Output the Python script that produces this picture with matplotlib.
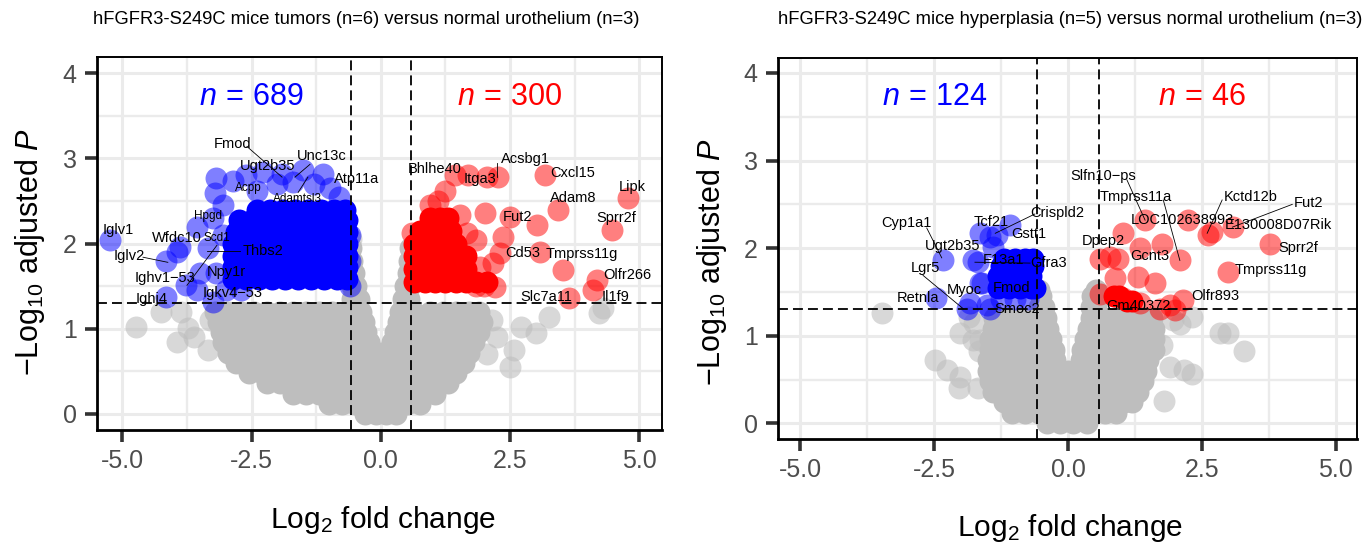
import matplotlib
matplotlib.use("Agg")
import matplotlib.pyplot as plt

plt.rcParams['font.family'] = ['Liberation Sans', 'DejaVu Sans']
plt.rcParams['mathtext.fontset'] = 'custom'
plt.rcParams['mathtext.rm'] = 'Liberation Sans'
plt.rcParams['mathtext.it'] = 'Liberation Sans:italic'
plt.rcParams['mathtext.bf'] = 'Liberation Sans:bold'

# ---------------- Panel 1: tumors vs normal urothelium ----------------
tumor_title = "hFGFR3-S249C mice tumors (n=6) versus normal urothelium (n=3)"
tumor_n_down = 689
tumor_n_up = 300

# grey (not significant) genes in the dense cloud, rows of (-log10 padj, [log2FC ...])
tumor_grey_rows = [
    (0.00, [-0.3, -0.1, 0.1, 0.3]),
    (0.12, [-1.0, -0.75, -0.5, -0.25, 0.0, 0.25, 0.5, 0.75]),
    (0.24, [-1.7, -1.45, -1.2, -0.95, -0.7, -0.45, -0.2, 0.05, 0.3, 0.55, 0.8, 1.05]),
    (0.36, [-2.2, -1.95, -1.7, -1.45, -1.2, -0.95, -0.7, -0.45, -0.2, 0.05, 0.3, 0.55, 0.8, 1.05, 1.3]),
    (0.48, [-2.55, -2.3, -2.05, -1.8, -1.55, -1.3, -1.05, -0.8, -0.55, -0.3, -0.05, 0.2, 0.45, 0.7, 0.95, 1.2, 1.45]),
    (0.60, [-2.8, -2.55, -2.3, -2.05, -1.8, -1.55, -1.3, -1.05, -0.8, -0.55, -0.3, -0.05, 0.2, 0.45, 0.7, 0.95, 1.2, 1.45, 1.6]),
    (0.72, [-2.95, -2.7, -2.45, -2.2, -1.95, -1.7, -1.45, -1.2, -0.95, -0.7, -0.45, -0.2, 0.0, 0.2, 0.45, 0.7, 0.95, 1.2, 1.45, 1.7]),
    (0.84, [-3.05, -2.8, -2.55, -2.3, -2.05, -1.8, -1.55, -1.3, -1.05, -0.8, -0.5, -0.22, 0.22, 0.5, 0.8, 1.05, 1.3, 1.55, 1.8]),
    (0.96, [-3.1, -2.85, -2.6, -2.35, -2.1, -1.85, -1.6, -1.35, -1.1, -0.85, -0.55, -0.28, 0.28, 0.55, 0.85, 1.1, 1.35, 1.6, 1.9]),
    (1.08, [-3.15, -2.9, -2.65, -2.4, -2.15, -1.9, -1.65, -1.4, -1.15, -0.9, -0.6, -0.33, 0.33, 0.6, 0.9, 1.15, 1.4, 1.65, 1.95]),
    (1.20, [-3.2, -2.95, -2.7, -2.45, -2.2, -1.95, -1.7, -1.45, -1.2, -0.95, -0.65, -0.38, 0.38, 0.65, 0.95, 1.2, 1.45, 1.7, 1.9]),
    (1.35, [-0.55, -0.42, 0.42, 0.55]),
    (1.50, [-0.56, -0.47, 0.47, 0.56]),
    (1.65, [-0.52, 0.52]),
    (1.80, [-0.56, 0.55]),
    (1.95, [-0.57, 0.57]),
]
# scattered grey genes outside the dense cloud
tumor_grey_extra = [
    (-0.57, 2.05),
    (-4.73, 1.02), (-4.26, 1.2), (-3.87, 1.2), (-3.72, 1.01), (-3.95, 0.85), (-3.62, 0.9),
    (-3.35, 0.75), (-3.3, 1.1), (2.71, 1.02), (3.0, 0.95), (3.25, 1.14), (4.22, 1.18),
    (4.3, 1.24), (2.57, 0.75), (2.49, 0.55), (2.15, 1.1), (2.05, 0.7), (2.25, 0.9),
]
# down-regulated (blue), dense block
tumor_down_rows = [
    (1.58, [-2.85, -2.6, -2.35, -2.1, -1.85, -1.6, -1.35, -1.1, -0.85, -0.65]),
    (1.72, [-2.85, -2.6, -2.35, -2.1, -1.85, -1.6, -1.35, -1.1, -0.85, -0.65]),
    (1.86, [-2.85, -2.6, -2.35, -2.1, -1.85, -1.6, -1.35, -1.1, -0.85, -0.65]),
    (2.00, [-2.85, -2.6, -2.35, -2.1, -1.85, -1.6, -1.35, -1.1, -0.85, -0.65]),
    (2.14, [-2.8, -2.55, -2.3, -2.05, -1.8, -1.55, -1.3, -1.05, -0.8, -0.65]),
    (2.28, [-2.75, -2.5, -2.25, -2.0, -1.75, -1.5, -1.25, -1.0, -0.75, -0.65]),
    (2.40, [-2.4, -2.15, -1.9, -1.65, -1.4, -1.15, -0.9, -0.7]),
]
tumor_down_extra = [
    (-0.6, 1.5), (-0.6, 1.8), (-0.6, 2.1), (-3.18, 2.77), (-3.21, 2.59), (-2.86, 2.74),
    (-2.6, 2.8), (-2.28, 2.84), (-1.92, 2.82), (-1.51, 2.86), (-1.12, 2.82), (-0.99, 2.65),
    (-2.0, 2.7), (-1.7, 2.72), (-1.3, 2.7), (-2.4, 2.62), (-0.8, 2.55), (-3.56, 2.2),
    (-3.25, 2.3), (-3.89, 1.96), (-3.35, 1.95), (-3.18, 1.65), (-3.5, 1.65), (-3.76, 1.51),
    (-3.56, 1.45), (-3.25, 1.32), (-3.0, 1.45), (-2.7, 1.45), (-4.15, 1.8), (-3.95, 1.9),
    (-4.16, 1.37), (-5.23, 2.04), (-3.05, 2.45), (-3.05, 2.1),
]
# up-regulated (red), dense block
tumor_up_rows = [
    (1.55, [0.65, 0.85, 1.05, 1.25, 1.45, 1.65, 1.85, 2.05]),
    (1.70, [0.65, 0.85, 1.05, 1.25, 1.45, 1.65]),
    (1.85, [0.65, 0.85, 1.05, 1.25, 1.45, 1.65]),
    (2.00, [0.65, 0.85, 1.05, 1.25, 1.45]),
    (2.15, [0.75, 0.95, 1.15, 1.35]),
    (2.30, [0.95, 1.15, 1.3]),
]
tumor_up_extra = [
    (0.6, 2.13), (1.1, 2.5), (1.25, 2.62), (0.95, 2.45), (1.43, 2.8), (1.68, 2.8),
    (2.05, 2.78), (2.26, 2.78), (3.17, 2.8), (4.78, 2.53), (3.42, 2.39), (3.02, 2.22),
    (2.49, 2.31), (2.01, 2.36), (1.53, 2.33), (4.47, 2.16), (3.08, 1.9), (3.52, 1.69),
    (4.18, 1.57), (4.1, 1.45), (3.64, 1.36), (2.36, 2.08), (2.3, 1.89), (2.17, 1.77),
    (2.2, 1.49), (1.91, 1.72), (1.85, 2.04), (1.66, 2.12), (2.0, 1.5), (1.85, 1.5),
]
# (label, text x, text y, font size, connector (x1, y1, x2, y2) or None)
tumor_labels = [
    ("Fmod", -2.86, 3.17, 10.5, (-2.59, 3.14, -1.91, 2.78)),
    ("Ugt2b35", -2.19, 2.91, 10.5, None),
    ("Unc13c", -1.14, 3.03, 10.5, (-1.37, 2.93, -1.66, 2.78)),
    ("Atp11a", -0.46, 2.76, 10.5, None),
    ("Acpp", -2.57, 2.65, 8.5, None),
    ("Adamtsl3", -1.62, 2.52, 8.5, (-1.41, 2.78, -1.6, 2.6)),
    ("Hpgd", -3.35, 2.32, 8.5, None),
    ("Iglv1", -5.07, 2.16, 10.5, None),
    ("Wfdc10", -3.95, 2.06, 10.5, None),
    ("Scd1", -3.17, 2.06, 8.5, None),
    ("Thbs2", -2.28, 1.91, 10.5, (-3.37, 1.91, -2.73, 1.91)),
    ("Iglv2", -4.86, 1.85, 10.5, (-4.6, 1.84, -4.12, 1.78)),
    ("Npy1r", -2.98, 1.67, 10.5, None),
    ("Ighv1\u221253", -4.18, 1.6, 10.5, (-3.75, 1.51, -3.17, 1.98)),
    ("Igkv4\u221253", -2.86, 1.42, 10.5, None),
    ("Ighj4", -4.43, 1.35, 10.5, None),
    ("Bhlhe40", 1.04, 2.88, 10.5, None),
    ("Acsbg1", 2.79, 2.99, 10.5, (2.24, 2.94, 2.24, 2.78)),
    ("Itga3", 1.91, 2.76, 10.5, None),
    ("Cxcl15", 3.71, 2.83, 10.5, None),
    ("Lipk", 4.86, 2.66, 10.5, None),
    ("Adam8", 3.73, 2.53, 10.5, None),
    ("Sprr2f", 4.56, 2.30, 10.5, None),
    ("Fut2", 2.65, 2.31, 10.5, None),
    ("Cd53", 2.75, 1.89, 10.5, None),
    ("Tmprss11g", 3.89, 1.88, 10.5, None),
    ("Olfr266", 4.76, 1.63, 10.5, None),
    ("Slc7a11", 3.21, 1.37, 10.5, None),
    ("Il1f9", 4.55, 1.37, 10.5, None),
]

# ---------------- Panel 2: hyperplasia vs normal urothelium ----------------
hyper_title = "hFGFR3-S249C mice hyperplasia (n=5) versus normal urothelium (n=3)"
hyper_n_down = 124
hyper_n_up = 46

hyper_grey_rows = [
    (0.00, [-0.4, -0.15, 0.1, 0.35]),
    (0.12, [-1.05, -0.8, -0.55, -0.3, -0.05, 0.2, 0.45, 0.7, 0.9]),
    (0.24, [-1.2, -0.95, -0.7, -0.45, -0.2, 0.05, 0.3, 0.55, 0.8, 1.05, 1.2]),
    (0.36, [-1.4, -1.15, -0.9, -0.65, -0.4, -0.15, 0.1, 0.35, 0.6, 0.85, 1.1, 1.3]),
    (0.48, [-1.45, -1.2, -0.95, -0.7, -0.45, -0.2, 0.05, 0.3, 0.55, 0.8, 1.05, 1.3, 1.4]),
    (0.60, [-1.5, -1.25, -1.0, -0.75, -0.5, -0.25, 0.0, 0.25, 0.5, 0.75, 1.0, 1.25, 1.45]),
    (0.72, [-1.5, -1.25, -1.0, -0.75, -0.5, -0.25, 0.25, 0.5, 0.75, 1.0, 1.25, 1.5]),
    (0.84, [-1.45, -1.2, -0.95, -0.7, -0.45, -0.27, 0.27, 0.45, 0.7, 0.95, 1.2, 1.45, 1.6]),
    (0.96, [-1.45, -1.2, -0.95, -0.7, -0.5, -0.32, 0.32, 0.5, 0.7, 0.95, 1.2, 1.45, 1.6]),
    (1.08, [-1.4, -1.15, -0.9, -0.65, -0.38, 0.38, 0.65, 0.9, 1.15, 1.4, 1.6]),
    (1.20, [-1.38, -1.15, -0.9, -0.65, -0.42, 0.42, 0.65, 0.9, 1.15, 1.4, 1.57]),
    (1.33, [-0.55, -0.45, 0.42, 0.53]),
    (1.45, [-0.5, 0.45]),
    (1.52, [-0.55, 0.52]),
]
hyper_grey_extra = [
    (-3.47, 1.26), (-2.49, 0.72), (-2.27, 0.61), (-2.04, 0.41), (-1.78, 0.95), (-1.85, 1.21),
    (-1.66, 0.83), (-2.02, 1.03), (-1.64, 0.95), (-2.02, 0.53), (-1.68, 0.41), (-1.75, 1.15),
    (2.99, 1.03), (3.29, 0.83), (2.32, 1.21), (2.17, 0.61), (1.8, 0.26), (2.32, 0.57),
    (2.09, 1.14), (1.91, 0.64), (1.96, 1.18), (2.84, 1.03), (1.75, 0.9),
]
hyper_down_rows = [
    (1.55, [-1.3, -1.1, -0.9, -0.7, -0.62]),
    (1.68, [-1.3, -1.1, -0.9, -0.7]),
    (1.80, [-1.25, -1.05, -0.85, -0.65]),
    (1.88, [-1.2, -1.0, -0.8, -0.65]),
]
hyper_down_extra = [
    (-2.34, 1.86), (-2.46, 1.43), (-1.89, 1.31), (-1.64, 1.6), (-1.64, 2.17), (-1.46, 2.13),
    (-1.33, 2.15), (-1.08, 2.26), (-1.77, 1.86), (-1.4, 2.01), (-0.65, 1.86), (-1.46, 1.31),
    (-1.52, 1.35), (-1.83, 1.37), (-1.68, 1.84), (-1.6, 1.6), (-1.25, 1.42), (-1.0, 1.42),
    (-0.75, 1.42),
]
hyper_up_rows = [
    (1.45, [0.85, 0.95]),
    (1.40, [1.1, 1.2]),
]
hyper_up_extra = [
    (1.44, 2.32), (2.24, 2.32), (2.69, 2.18), (2.62, 2.15), (3.08, 2.24), (3.78, 2.05),
    (2.99, 1.73), (2.15, 1.41), (2.09, 1.86), (1.76, 2.05), (1.35, 2.0), (1.63, 1.6),
    (1.31, 1.67), (1.03, 2.17), (0.93, 1.88), (0.6, 1.88), (0.88, 1.66), (1.03, 1.43),
    (1.35, 1.38), (1.72, 1.31), (0.79, 1.9), (0.6, 1.48), (1.9, 1.35), (2.0, 1.3),
]
hyper_labels = [
    ("Cyp1a1", -3.02, 2.29, 10.5, (-2.64, 2.23, -2.36, 1.89)),
    ("Ugt2b35", -2.15, 2.03, 10.5, None),
    ("Lgr5", -2.67, 1.77, 10.5, (-2.71, 1.69, -1.96, 1.31)),
    ("Retnla", -2.8, 1.43, 10.5, None),
    ("Myoc", -1.93, 1.52, 10.5, None),
    ("Tcf21", -1.44, 2.30, 10.5, None),
    ("Crispld2", -0.21, 2.40, 10.5, (-0.62, 2.39, -1.36, 2.17)),
    ("Gstt1", -0.73, 2.16, 10.5, None),
    ("F13a1", -1.21, 1.86, 10.5, (-1.74, 1.84, -0.71, 1.83)),
    ("Gfra3", -0.37, 1.83, 10.5, None),
    ("Fmod", -1.05, 1.55, 10.5, None),
    ("Smoc2", -0.95, 1.31, 10.5, None),
    ("Slfn10\u2212ps", 0.65, 2.82, 10.5, (1.1, 2.78, 1.44, 2.32)),
    ("Tmprss11a", 1.27, 2.58, 10.5, (1.78, 2.55, 2.09, 1.86)),
    ("LOC102638993", 2.13, 2.32, 10.5, None),
    ("Kctd12b", 3.42, 2.58, 10.5, (2.88, 2.55, 2.6, 2.17)),
    ("Fut2", 4.49, 2.51, 10.5, (4.19, 2.5, 3.07, 2.24)),
    ("E130008D07Rik", 3.93, 2.27, 10.5, None),
    ("Sprr2f", 4.3, 2.0, 10.5, None),
    ("Dpep2", 0.65, 2.08, 10.5, None),
    ("Gcnt3", 1.53, 1.91, 10.5, None),
    ("Tmprss11g", 3.79, 1.75, 10.5, None),
    ("Olfr893", 2.75, 1.46, 10.5, None),
    ("Gm40372", 1.31, 1.34, 10.5, None),
]

FC_CUT = 0.585
P_CUT = 1.301
xticks = [-5.0, -2.5, 0.0, 2.5, 5.0]
xtick_labels = ["-5.0", "-2.5", "0.0", "2.5", "5.0"]
yticks = [0, 1, 2, 3, 4]


def unrow(rows):
    xs, ys = [], []
    for y, row in rows:
        xs += row
        ys += [y] * len(row)
    return xs, ys


def unpair(pairs):
    return [p[0] for p in pairs], [p[1] for p in pairs]


def panel(ax, data, labels, n_down, n_up, xlim, ylim):
    ax.set_xlim(*xlim)
    ax.set_ylim(*ylim)
    ax.set_xticks(xticks)
    ax.set_xticklabels(xtick_labels)
    ax.set_yticks(yticks)
    ax.set_xticks([-3.75, -1.25, 1.25, 3.75], minor=True)
    ax.set_yticks([0.5, 1.5, 2.5, 3.5], minor=True)
    ax.grid(which='major', color='#ebebeb', lw=2.2, zorder=0)
    ax.grid(which='minor', color='#ebebeb', lw=1.7, zorder=0)
    ax.set_axisbelow(True)
    ax.tick_params(which='major', length=8.6, width=2.6, color='#333333',
                   labelsize=18, labelcolor='#4d4d4d')
    ax.tick_params(axis='x', pad=5)
    ax.tick_params(axis='y', pad=6)
    ax.tick_params(which='minor', length=0)
    for s in ['top', 'right']:
        ax.spines[s].set_linewidth(1.4)
    for s in ['left', 'bottom']:
        ax.spines[s].set_linewidth(2.0)

    ms = 250
    (g_rows, g_extra), (d_rows, d_extra), (u_rows, u_extra) = data
    # dense clouds (thousands of overlapping genes) render opaque
    x, y = unpair(g_extra)
    ax.scatter(x, y, s=ms, c='#bebebe', alpha=0.6, linewidths=0, zorder=2)
    x, y = unrow(g_rows)
    ax.scatter(x, y, s=ms, c='#bebebe', alpha=1.0, linewidths=0, zorder=2)
    x, y = unrow(d_rows)
    ax.scatter(x, y, s=ms, c='#0000ff', alpha=1.0, linewidths=0, zorder=3)
    x, y = unpair(d_extra)
    ax.scatter(x, y, s=ms, c='#0000ff', alpha=0.5, linewidths=0, zorder=3)
    x, y = unrow(u_rows)
    ax.scatter(x, y, s=ms, c='#ff0000', alpha=1.0, linewidths=0, zorder=3)
    x, y = unpair(u_extra)
    ax.scatter(x, y, s=ms, c='#ff0000', alpha=0.5, linewidths=0, zorder=3)

    dash = (0, (5.5, 2.8))
    ax.axvline(-FC_CUT, color='black', lw=1.3, ls=dash, zorder=4)
    ax.axvline(FC_CUT, color='black', lw=1.3, ls=dash, zorder=4)
    ax.axhline(P_CUT, color='black', lw=1.3, ls=dash, zorder=4)

    for txt, tx, ty, fs, seg in labels:
        if seg is not None:
            ax.plot([seg[0], seg[2]], [seg[1], seg[3]], color='black', lw=0.6, zorder=5)
        ax.text(tx, ty, txt, fontsize=fs, ha='center', va='center', color='black', zorder=6)

    ax.text(-2.5, 3.72, r'$n\,=\,%d$' % n_down, color='#0000ff', fontsize=22,
            ha='center', va='center', zorder=6)
    ax.text(2.5, 3.72, r'$n\,=\,%d$' % n_up, color='#ff0000', fontsize=22,
            ha='center', va='center', zorder=6)

    ax.set_xlabel(r'Log$_{2}$ fold change', fontsize=21.5, color='black')
    ax.set_ylabel('\u2212Log$_{10}$ adjusted $P$', fontsize=22, color='black')


W, H = 1372, 544
fig = plt.figure(figsize=(W / 100, H / 100), dpi=100)

ax1 = fig.add_axes([97 / W, 1 - 430 / H, (662 - 97) / W, (430 - 57) / H])
panel(ax1,
      ((tumor_grey_rows, tumor_grey_extra), (tumor_down_rows, tumor_down_extra),
       (tumor_up_rows, tumor_up_extra)),
      tumor_labels, tumor_n_down, tumor_n_up,
      (-5.49, 5.44), (-0.188, 4.19))
ax1.xaxis.set_label_coords((383 - 97) / 565, (430 - 520) / 373)
ax1.xaxis.label.set_va('center')
ax1.yaxis.set_label_coords((30 - 97) / 565, (430 - 252) / 373)
ax1.yaxis.label.set_va('center')

ax2 = fig.add_axes([778 / W, 1 - 439 / H, (1357 - 778) / W, (439 - 58) / H])
panel(ax2,
      ((hyper_grey_rows, hyper_grey_extra), (hyper_down_rows, hyper_down_extra),
       (hyper_up_rows, hyper_up_extra)),
      hyper_labels, hyper_n_down, hyper_n_up,
      (-5.42, 5.40), (-0.177, 4.17))
ax2.xaxis.set_label_coords((1070 - 778) / 579, (439 - 528) / 381)
ax2.xaxis.label.set_va('center')
ax2.yaxis.set_label_coords((712 - 778) / 579, (439 - 262) / 381)
ax2.yaxis.label.set_va('center')

fig.text(93 / W, 1 - 20 / H, tumor_title, fontsize=13.2, ha='left', va='center')
fig.text(778 / W, 1 - 20 / H, hyper_title, fontsize=13.2, ha='left', va='center')

fig.savefig('out.png', dpi=100)
